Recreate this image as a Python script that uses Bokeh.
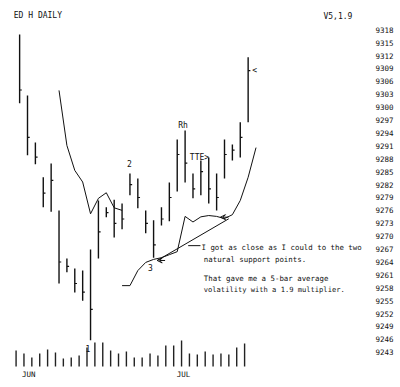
from bokeh.plotting import figure
from bokeh.models import Range1d, FixedTicker, Label, Arrow, VeeHead, ColumnDataSource
from bokeh.embed import file_html
from bokeh.resources import INLINE

# ---- data ----
highs = [9316.9, 9302.7, 9291.8, 9283.7, 9286.9, 9276.0, 9264.8, 9262.5, 9262.0, 9266.9,
         9278.3, 9276.7, 9278.5, 9277.6, 9284.6, 9283.4, 9276.0, 9273.7, 9276.7, 9282.5,
         9292.5, 9294.6, 9284.6, 9287.6, 9288.3, 9284.6, 9292.5, 9291.3, 9296.5, 9311.6]
lows = [9300.9, 9288.8, 9286.7, 9276.7, 9275.7, 9259.0, 9261.6, 9256.9, 9255.0, 9245.8,
        9264.8, 9274.4, 9269.7, 9271.6, 9279.5, 9276.5, 9270.7, 9265.0, 9272.5, 9273.5,
        9280.4, 9282.5, 9278.8, 9279.5, 9277.6, 9276.0, 9283.4, 9287.6, 9288.3, 9296.5]
closes = [9304.0, 9293.0, 9288.4, 9280.0, 9283.0, 9264.0, 9263.0, 9259.0, 9257.0, 9253.0,
          9271.0, 9275.5, 9273.0, 9274.0, 9282.0, 9279.0, 9273.0, 9268.0, 9274.0, 9279.0,
          9289.0, 9287.0, 9281.0, 9285.0, 9281.0, 9279.0, 9289.0, 9290.0, 9293.0, 9308.5]
volumes = [16, 13, 9, 13, 17, 14, 8, 9, 11, 19,
           24, 24, 16, 13, 15, 9, 9, 13, 11, 21,
           21, 26, 13, 12, 15, 12, 13, 12, 19, 23]

upper_stop_idx = [5, 6, 7, 8, 9, 10, 11, 12, 13]
upper_stop = [9303.9, 9291.1, 9285.3, 9282.6, 9275.2, 9278.8, 9280.1, 9276.6, 9276.0]
lower_stop_idx = list(range(13, 31))
lower_stop = [9258.5, 9258.5, 9262.0, 9263.9, 9264.6, 9265.0, 9265.7, 9266.4, 9274.6,
              9273.3, 9274.5, 9274.8, 9274.6, 9274.1, 9275.0, 9278.3, 9283.7, 9290.6]

# hand-drawn trendline between the two support points
trend_x = [17.46, 26.54]
trend_y = [9264.35, 9274.05]

price_ticks = [9318, 9315, 9312, 9309, 9306, 9303, 9300, 9297, 9294, 9291, 9288, 9285, 9282,
               9279, 9276, 9273, 9270, 9267, 9264, 9261, 9258, 9255, 9252, 9249, 9246, 9243]
month_labels = ["JUN", "JUL"]
month_pos = [1.16, 20.8]

FONT = "DejaVu Sans Mono"
INK = "#111111"

n = len(highs)
idx = list(range(n))

p = figure(frame_width=362, frame_height=371,
           x_range=Range1d(-1.412, 44.528), y_range=Range1d(9236.67, 9322.95),
           x_axis_location=None, y_axis_location="right",
           toolbar_location=None, output_backend="svg",
           min_border_left=8, min_border_top=8, min_border_bottom=0, min_border_right=0,
           outline_line_color=None)
p.xgrid.visible = False
p.ygrid.visible = False
p.background_fill_color = "white"
p.border_fill_color = "white"

p.extra_y_ranges = {"vol": Range1d(-13, 358)}

# price bars
src = ColumnDataSource(dict(x=idx, hi=highs, lo=lows, cl=closes,
                            xc=[i + 0.28 for i in idx]))
p.segment(x0="x", y0="lo", x1="x", y1="hi", source=src, line_color=INK, line_width=1.4)
p.segment(x0="x", y0="cl", x1="xc", y1="cl", source=src, line_color=INK, line_width=1.2)

# volume bars
vsrc = ColumnDataSource(dict(x=[i - 0.45 for i in idx], v=volumes, z=[0] * n))
p.segment(x0="x", y0="z", x1="x", y1="v", source=vsrc, y_range_name="vol",
          line_color="#222222", line_width=1.4)

# volatility stops
p.line(upper_stop_idx, upper_stop, line_color=INK, line_width=1)
p.line(lower_stop_idx, lower_stop, line_color=INK, line_width=1)
p.line(trend_x, trend_y, line_color=INK, line_width=1)

# leader line from the note to the trendline
p.line([21.39, 22.95], [9267.8, 9267.8], line_color=INK, line_width=1)

# arrows to the support points
for tip_x, tip_y in [(17.46, 9264.35), (25.49, 9274.42)]:
    p.add_layout(Arrow(end=VeeHead(size=5, line_width=1, line_color=INK, fill_color=None),
                       x_start=tip_x + 1.0, y_start=tip_y, x_end=tip_x, y_end=tip_y,
                       line_color=INK, line_width=1))

# right price axis
ax = p.yaxis[0]
ax.ticker = FixedTicker(ticks=price_ticks)
ax.major_label_overrides = {t: str(t) for t in price_ticks}
ax.major_tick_line_color = None
ax.major_tick_out = 0
ax.major_tick_in = 0
ax.minor_tick_line_color = None
ax.minor_tick_out = 0
ax.axis_line_color = None
ax.major_label_standoff = 5
ax.major_label_text_font = FONT
ax.major_label_text_font_size = "7.5px"
ax.major_label_text_color = INK


def lab(x, y, text, size="7.4px", align="left"):
    p.add_layout(Label(x=x, y=y, text=text, text_font=FONT, text_font_size=size,
                       text_color=INK, text_align=align, text_baseline="middle"))


lab(-0.74, 9321.3, "ED H DAILY", "8px")
lab(38.56, 9321.1, "V5,1.9", "8px")
lab(8.68, 9243.9, "1", "8px", "center")
lab(13.94, 9286.9, "2", "8px", "center")
lab(16.6, 9262.7, "3", "8px", "center")
lab(20.73, 9295.7, "Rh", "8px", "center")
lab(21.6, 9288.4, "TTE>", "8px")
lab(29.51, 9308.5, "<", "8px")

lab(23.08, 9267.44, "I got as close as I could to the two")
lab(23.37, 9264.58, "natural support points.")
lab(23.37, 9260.1, "That gave me a 5-bar average")
lab(23.37, 9257.53, "volatility with a 1.9 multiplier.", "7.1px")

for m, xm in zip(month_labels, month_pos):
    lab(xm, 9237.9, m, "7.5px", "center")

open("out.html", "w").write(file_html(p, INLINE))
